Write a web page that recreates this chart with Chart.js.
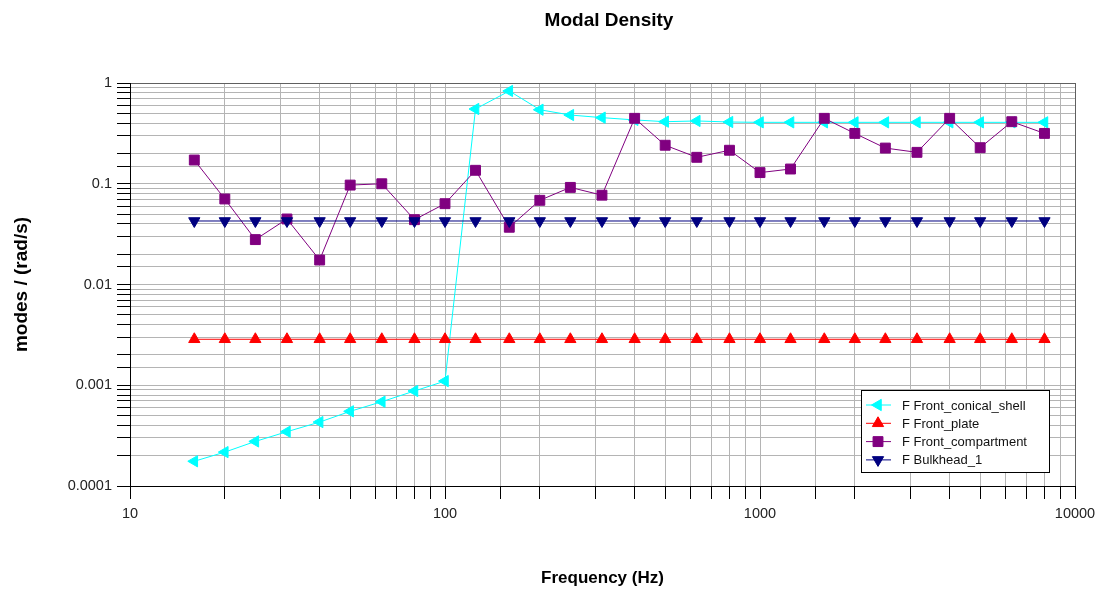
<!DOCTYPE html>
<html>
<head>
<meta charset="utf-8">
<title>Modal Density</title>
<script src="https://cdn.jsdelivr.net/npm/chart.js@4/dist/chart.umd.min.js"></script>
<style>
  html, body { margin: 0; padding: 0; background: #fff; }
  #chart { display: block; }
</style>
</head>
<body>
<canvas id="chart" width="1103" height="592"></canvas>
<script>
// 1/3 octave band centre frequencies
var frequencies = [16, 20, 25, 31.5, 40, 50, 63, 80, 100, 125, 160, 200, 250, 315, 400,
  500, 630, 800, 1000, 1250, 1600, 2000, 2500, 3150, 4000, 5000, 6300, 8000];

var conicalShell = [0.000176, 0.000217, 0.000277, 0.000346, 0.000431, 0.000551, 0.000687, 0.000877, 0.0011,
  0.552, 0.833, 0.543, 0.481, 0.453, 0.43, 0.413, 0.42, 0.41, 0.407, 0.407, 0.407, 0.407,
  0.407, 0.407, 0.407, 0.407, 0.407, 0.407];

var frontPlate = [0.00286, 0.00286, 0.00286, 0.00286, 0.00286, 0.00286, 0.00286, 0.00286, 0.00286,
  0.00286, 0.00286, 0.00286, 0.00286, 0.00286, 0.00286, 0.00286, 0.00286, 0.00286, 0.00286,
  0.00286, 0.00286, 0.00286, 0.00286, 0.00286, 0.00286, 0.00286, 0.00286, 0.00286];

var frontCompartment = [0.172, 0.0706, 0.0279, 0.0447, 0.0175, 0.097, 0.100, 0.044, 0.0634,
  0.136, 0.037, 0.0685, 0.092, 0.077, 0.446, 0.241, 0.183, 0.215, 0.129, 0.140, 0.446,
  0.316, 0.226, 0.205, 0.446, 0.228, 0.413, 0.316];

var bulkhead = [0.0427, 0.0427, 0.0427, 0.0427, 0.0427, 0.0427, 0.0427, 0.0427, 0.0427,
  0.0427, 0.0427, 0.0427, 0.0427, 0.0427, 0.0427, 0.0427, 0.0427, 0.0427, 0.0427,
  0.0427, 0.0427, 0.0427, 0.0427, 0.0427, 0.0427, 0.0427, 0.0427, 0.0427];

var seriesNames = ['F Front_conical_shell', 'F Front_plate', 'F Front_compartment', 'F Bulkhead_1'];

var xTickLabels = ['10', '100', '1000', '10000'];         // 10^1 .. 10^4
var yTickLabels = ['0.0001', '0.001', '0.01', '0.1', '1']; // 10^-4 .. 10^0

var FONT = '"Liberation Sans", Arial, sans-serif';
var GRID = '#b4b4b4';

function toPoints(values) {
  return values.map(function (v, i) { return { x: frequencies[i], y: v }; });
}

// label only the decades
function decadeLabel(value, labels, offset) {
  var l = Math.log10(value);
  var r = Math.round(l);
  if (Math.abs(l - r) > 1e-6) return '';
  return labels[r + offset] || '';
}

function edgeColor(max) {
  return function (ctx) {
    if (ctx.tick && Math.abs(ctx.tick.value - max) < max * 1e-6) return '#606060';
    return GRID;
  };
}

var datasets = [
  { label: seriesNames[0], data: toPoints(conicalShell), borderColor: '#00ffff', backgroundColor: '#00ffff',
    pointStyle: 'triangle', rotation: -90, pointRadius: 6.5, order: 4 },
  { label: seriesNames[1], data: toPoints(frontPlate), borderColor: '#ff0000', backgroundColor: '#ff0000',
    pointStyle: 'triangle', rotation: 0, pointRadius: 6.5, order: 3 },
  { label: seriesNames[2], data: toPoints(frontCompartment), borderColor: '#800080', backgroundColor: '#800080',
    pointStyle: 'rect', rotation: 0, pointRadius: 7, order: 2 },
  { label: seriesNames[3], data: toPoints(bulkhead), borderColor: '#000080', backgroundColor: '#000080',
    pointStyle: 'triangle', rotation: 180, pointRadius: 6.5, order: 1 }
];
datasets.forEach(function (d) {
  d.borderWidth = 1;
  d.tension = 0;
  d.pointBorderWidth = 1;
});

// title sits a bit right of the page centre, over the plot
var titleShift = {
  id: 'titleShift',
  afterLayout: function (chart) {
    if (chart.titleBlock) {
      chart.titleBlock.left = 130;
      chart.titleBlock.right = 1088;
    }
  }
};

// legend box drawn inside the plot, lower right
var boxLegend = {
  id: 'boxLegend',
  afterDraw: function (chart) {
    var ctx = chart.ctx;
    var x0 = 861, y0 = 390, w = 188, h = 82;
    ctx.save();
    ctx.fillStyle = '#fff';
    ctx.fillRect(x0, y0, w, h);
    ctx.strokeStyle = '#000';
    ctx.lineWidth = 1;
    ctx.strokeRect(x0 + 0.5, y0 + 0.5, w, h);
    ctx.font = '13px ' + FONT;
    ctx.textBaseline = 'middle';
    chart.data.datasets.forEach(function (ds, i) {
      var y = y0 + 15 + i * 18.3;
      ctx.strokeStyle = ds.borderColor;
      ctx.beginPath();
      ctx.moveTo(x0 + 5, y);
      ctx.lineTo(x0 + 30, y);
      ctx.stroke();
      ctx.fillStyle = ds.backgroundColor;
      Chart.helpers.drawPoint(ctx, {
        pointStyle: ds.pointStyle, rotation: ds.rotation, radius: ds.pointRadius, borderWidth: 1
      }, x0 + 17, y);
      ctx.fillStyle = '#111';
      ctx.fillText(ds.label, x0 + 41, y + 1);
    });
    ctx.restore();
  }
};

var config = {
  type: 'line',
  data: { datasets: datasets },
  options: {
    responsive: false,
    animation: false,
    layout: { padding: { left: 4, right: 28, top: 0, bottom: 0 } },
    plugins: {
      legend: { display: false },
      tooltip: { enabled: false },
      title: {
        display: true,
        text: 'Modal Density',
        color: '#000',
        font: { family: FONT, size: 19, weight: 'bold' },
        padding: { top: 9, bottom: 51.2 }
      }
    },
    scales: {
      x: {
        type: 'logarithmic',
        min: 10,
        max: 10000,
        afterFit: function (s) { s.height = 106; },
        title: {
          display: true,
          text: 'Frequency (Hz)',
          color: '#000',
          font: { family: FONT, size: 17, weight: 'bold' },
          padding: { top: 0, bottom: 3.8 }
        },
        ticks: {
          autoSkip: false,
          maxRotation: 0,
          padding: 6,
          color: '#222',
          font: { family: FONT, size: 14.5 },
          callback: function (v) { return decadeLabel(v, xTickLabels, -1); }
        },
        grid: { color: edgeColor(10000), tickColor: '#000', tickLength: 13, lineWidth: 1 },
        border: { color: '#000', width: 1 }
      },
      y: {
        type: 'logarithmic',
        min: 0.0001,
        max: 1,
        afterFit: function (s) { s.width = 126; },
        title: {
          display: true,
          text: 'modes / (rad/s)',
          color: '#000',
          font: { family: FONT, size: 19, weight: 'bold' },
          padding: { top: 6.6, bottom: 0 }
        },
        ticks: {
          autoSkip: false,
          padding: 5,
          color: '#222',
          font: { family: FONT, size: 14.5 },
          callback: function (v) { return decadeLabel(v, yTickLabels, 4); }
        },
        grid: { color: edgeColor(1), tickColor: '#000', tickLength: 13, lineWidth: 1 },
        border: { color: '#000', width: 1 }
      }
    }
  },
  plugins: [titleShift, boxLegend]
};

window.onload = function () {
  var ctx = document.getElementById('chart');
  window.modalChart = new Chart(ctx, config);
};
</script>
</body>
</html>
